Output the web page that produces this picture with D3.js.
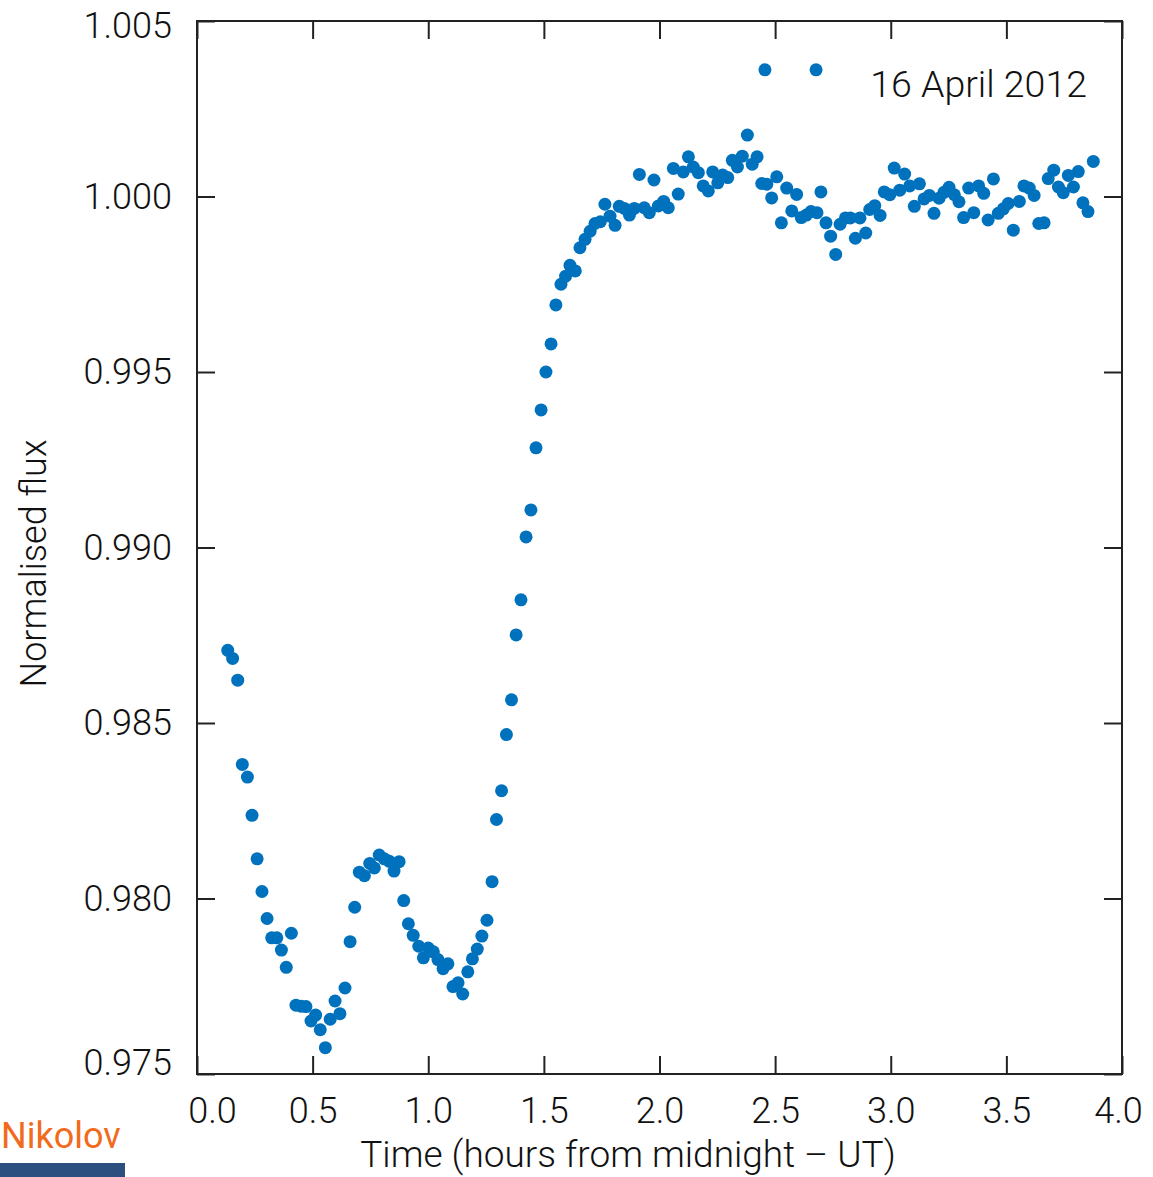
<!DOCTYPE html>
<html>
<head>
<meta charset="utf-8">
<script src="https://cdn.jsdelivr.net/npm/d3@7"></script>
<style>
  body { margin: 0; background: #fff; }
  svg { display: block; }
  .axis text, .title { font-family: Roboto, "Helvetica Neue", Arial, sans-serif; font-size: 36px; font-weight: 300; fill: #111; }
  .axis line { stroke: #222; stroke-width: 2; }
</style>
</head>
<body>
<svg id="chart" width="1153" height="1177"></svg>
<script>
// hours from midnight UT
let time = [
  0.133, 0.154, 0.176, 0.196, 0.218, 0.238, 0.260, 0.281, 0.303, 0.323,
  0.345, 0.365, 0.386, 0.408, 0.428, 0.450, 0.471, 0.493, 0.513, 0.533,
  0.555, 0.576, 0.597, 0.618, 0.640, 0.662, 0.682, 0.702, 0.724, 0.747,
  0.767, 0.788, 0.810, 0.832, 0.852, 0.874, 0.894, 0.914, 0.935, 0.959,
  0.979, 1.000, 1.022, 1.042, 1.064, 1.085, 1.107, 1.129, 1.149, 1.171,
  1.191, 1.212, 1.232, 1.254, 1.276, 1.295, 1.317, 1.338, 1.360, 1.380,
  1.401, 1.423, 1.444, 1.466, 1.488, 1.509, 1.531, 1.552, 1.574, 1.594,
  1.613, 1.636, 1.656, 1.678, 1.700, 1.721, 1.744, 1.764, 1.786, 1.808,
  1.826, 1.848, 1.870, 1.891, 1.913, 1.934, 1.956, 1.976, 1.995, 2.018,
  2.038, 2.060, 2.081, 2.103, 2.125, 2.146, 2.168, 2.189, 2.211, 2.230,
  2.252, 2.273, 2.295, 2.315, 2.337, 2.358, 2.380, 2.401, 2.422, 2.442,
  2.456, 2.464, 2.485, 2.507, 2.527, 2.550, 2.572, 2.593, 2.613, 2.635,
  2.655, 2.677, 2.681, 2.698, 2.720, 2.740, 2.762, 2.781, 2.804, 2.825,
  2.847, 2.867, 2.892, 2.909, 2.931, 2.954, 2.972, 2.996, 3.015, 3.039,
  3.060, 3.082, 3.102, 3.124, 3.144, 3.167, 3.187, 3.209, 3.230, 3.252,
  3.275, 3.295, 3.315, 3.337, 3.359, 3.380, 3.402, 3.421, 3.444, 3.465,
  3.487, 3.508, 3.530, 3.556, 3.576, 3.599, 3.620, 3.640, 3.663, 3.681,
  3.705, 3.725, 3.746, 3.768, 3.790, 3.811, 3.831, 3.853, 3.876
];

let flux = [
  0.98707, 0.98684, 0.98622, 0.98382, 0.98346, 0.98237, 0.98113, 0.98020, 0.97943, 0.97888,
  0.97888, 0.97853, 0.97804, 0.97901, 0.97696, 0.97693, 0.97692, 0.97651, 0.97668, 0.97626,
  0.97575, 0.97656, 0.97708, 0.97672, 0.97745, 0.97877, 0.97975, 0.98075, 0.98065, 0.98100,
  0.98087, 0.98124, 0.98113, 0.98106, 0.98078, 0.98105, 0.97994, 0.97928, 0.97895, 0.97864,
  0.97831, 0.97859, 0.97848, 0.97826, 0.97800, 0.97814, 0.97749, 0.97760, 0.97728, 0.97791,
  0.97828, 0.97856, 0.97893, 0.97938, 0.98048, 0.98225, 0.98307, 0.98467, 0.98566, 0.98751,
  0.98851, 0.99030, 0.99107, 0.99284, 0.99392, 0.99500, 0.99580, 0.99691, 0.99750, 0.99773,
  0.99804, 0.99788, 0.99854, 0.99878, 0.99901, 0.99923, 0.99928, 0.99978, 0.99944, 0.99918,
  0.99972, 0.99966, 0.99947, 0.99966, 1.00063, 0.99968, 0.99954, 1.00047, 0.99973, 0.99986,
  0.99968, 1.00080, 1.00007, 1.00070, 1.00113, 1.00084, 1.00068, 1.00030, 1.00016, 1.00070,
  1.00039, 1.00061, 1.00054, 1.00103, 1.00084, 1.00115, 1.00175, 1.00092, 1.00113, 1.00037,
  1.00361, 1.00035, 0.99996, 1.00056, 0.99925, 1.00024, 0.99959, 1.00006, 0.99940, 0.99947,
  0.99957, 1.00361, 0.99954, 1.00013, 0.99925, 0.99887, 0.99835, 0.99921, 0.99939, 0.99939,
  0.99881, 0.99939, 0.99896, 0.99963, 0.99974, 0.99946, 1.00013, 1.00005, 1.00081, 1.00018,
  1.00064, 1.00030, 0.99972, 1.00036, 0.99993, 1.00003, 0.99952, 0.99995, 1.00012, 1.00026,
  1.00005, 0.99985, 0.99940, 1.00024, 0.99954, 1.00030, 1.00009, 0.99933, 1.00050, 0.99952,
  0.99965, 0.99980, 0.99904, 0.99986, 1.00030, 1.00024, 1.00003, 0.99923, 0.99925, 1.00051,
  1.00075, 1.00027, 1.00011, 1.00060, 1.00027, 1.00071, 0.99982, 0.99957, 1.00100
];

let xTicks = [0, 0.5, 1, 1.5, 2, 2.5, 3, 3.5, 4];
let yTicks = [0.975, 0.980, 0.985, 0.990, 0.995, 1.000, 1.005];

let dateLabel = "16 April 2012";
let xTitle = "Time (hours from midnight \u2013 UT)";
let yTitle = "Normalised flux";

let plot = { left: 197, right: 1122, top: 21, bottom: 1074 };
let tickLen = 18;
let radius = 6.5;
let dotColor = "#0072bd";

let svg = d3.select("#chart");

let scaleX = d3.scaleLinear().domain([0, 4]).range([plot.left, plot.right]);
let scaleY = d3.scaleLinear().domain([0.975, 1.005]).range([plot.bottom, plot.top]);

(function () {
    drawAxes();
    drawDots();
    drawLabels();
}());

function drawAxes() {
    // bottom, with labels
    let bottom = svg.append("g")
        .attr("class", "axis")
        .attr("transform", "translate(0," + plot.bottom + ")")
        .call(d3.axisBottom(scaleX).tickValues(xTicks).tickFormat(d3.format(".1f"))
            .tickSizeInner(-tickLen).tickSizeOuter(0).tickPadding(23));

    // left, with labels
    let left = svg.append("g")
        .attr("class", "axis")
        .attr("transform", "translate(" + plot.left + ",0)")
        .call(d3.axisLeft(scaleY).tickValues(yTicks).tickFormat(d3.format(".3f"))
            .tickSizeInner(-tickLen).tickSizeOuter(0).tickPadding(25));

    // top and right, ticks only
    svg.append("g")
        .attr("class", "axis")
        .attr("transform", "translate(0," + plot.top + ")")
        .call(d3.axisTop(scaleX).tickValues(xTicks).tickFormat("")
            .tickSizeInner(-tickLen).tickSizeOuter(0));

    svg.append("g")
        .attr("class", "axis")
        .attr("transform", "translate(" + plot.right + ",0)")
        .call(d3.axisRight(scaleY).tickValues(yTicks).tickFormat("")
            .tickSizeInner(-tickLen).tickSizeOuter(0));

    svg.selectAll(".axis .domain").remove();

    // end labels are nudged inside like the original
    bottom.selectAll(".tick text").attr("dx", d => d === 0 ? 15 : (d === 4 ? -4 : 0));
    left.selectAll(".tick text").attr("dy", d => d === 1.005 ? "0.45em" : (d === 0.975 ? "0.0em" : "0.32em"));

    svg.append("rect")
        .attr("x", plot.left)
        .attr("y", plot.top)
        .attr("width", plot.right - plot.left)
        .attr("height", plot.bottom - plot.top)
        .attr("fill", "none")
        .attr("stroke", "#222")
        .attr("stroke-width", 2);
}

function drawDots() {
    svg.selectAll(".dot").data(time).enter()
        .append("circle")
        .attr("class", "dot")
        .attr("cx", d => scaleX(d))
        .attr("cy", (d, i) => scaleY(flux[i]))
        .attr("r", radius)
        .attr("fill", dotColor);
}

function drawLabels() {
    svg.append("text")
        .attr("class", "title")
        .attr("text-anchor", "end")
        .attr("x", 1087)
        .attr("y", 97)
        .style("font-size", "37.5px")
        .text(dateLabel);

    svg.append("text")
        .attr("class", "title")
        .attr("text-anchor", "middle")
        .attr("x", 628)
        .attr("y", 1167)
        .style("font-size", "37px")
        .text(xTitle);

    svg.append("text")
        .attr("class", "title")
        .attr("text-anchor", "middle")
        .attr("transform", "translate(46," + ((plot.top + plot.bottom) / 2 + 16) + ") rotate(-90)")
        .text(yTitle);

    // cropped slide footer
    svg.append("text")
        .attr("x", 1)
        .attr("y", 1148)
        .style("font-family", "Roboto, Arial, sans-serif")
        .style("font-size", "36px")
        .style("fill", "#f26a1b")
        .text("Nikolov");

    svg.append("rect")
        .attr("x", 0)
        .attr("y", 1163)
        .attr("width", 125)
        .attr("height", 14)
        .attr("fill", "#2d4f80");
}
</script>
</body>
</html>
